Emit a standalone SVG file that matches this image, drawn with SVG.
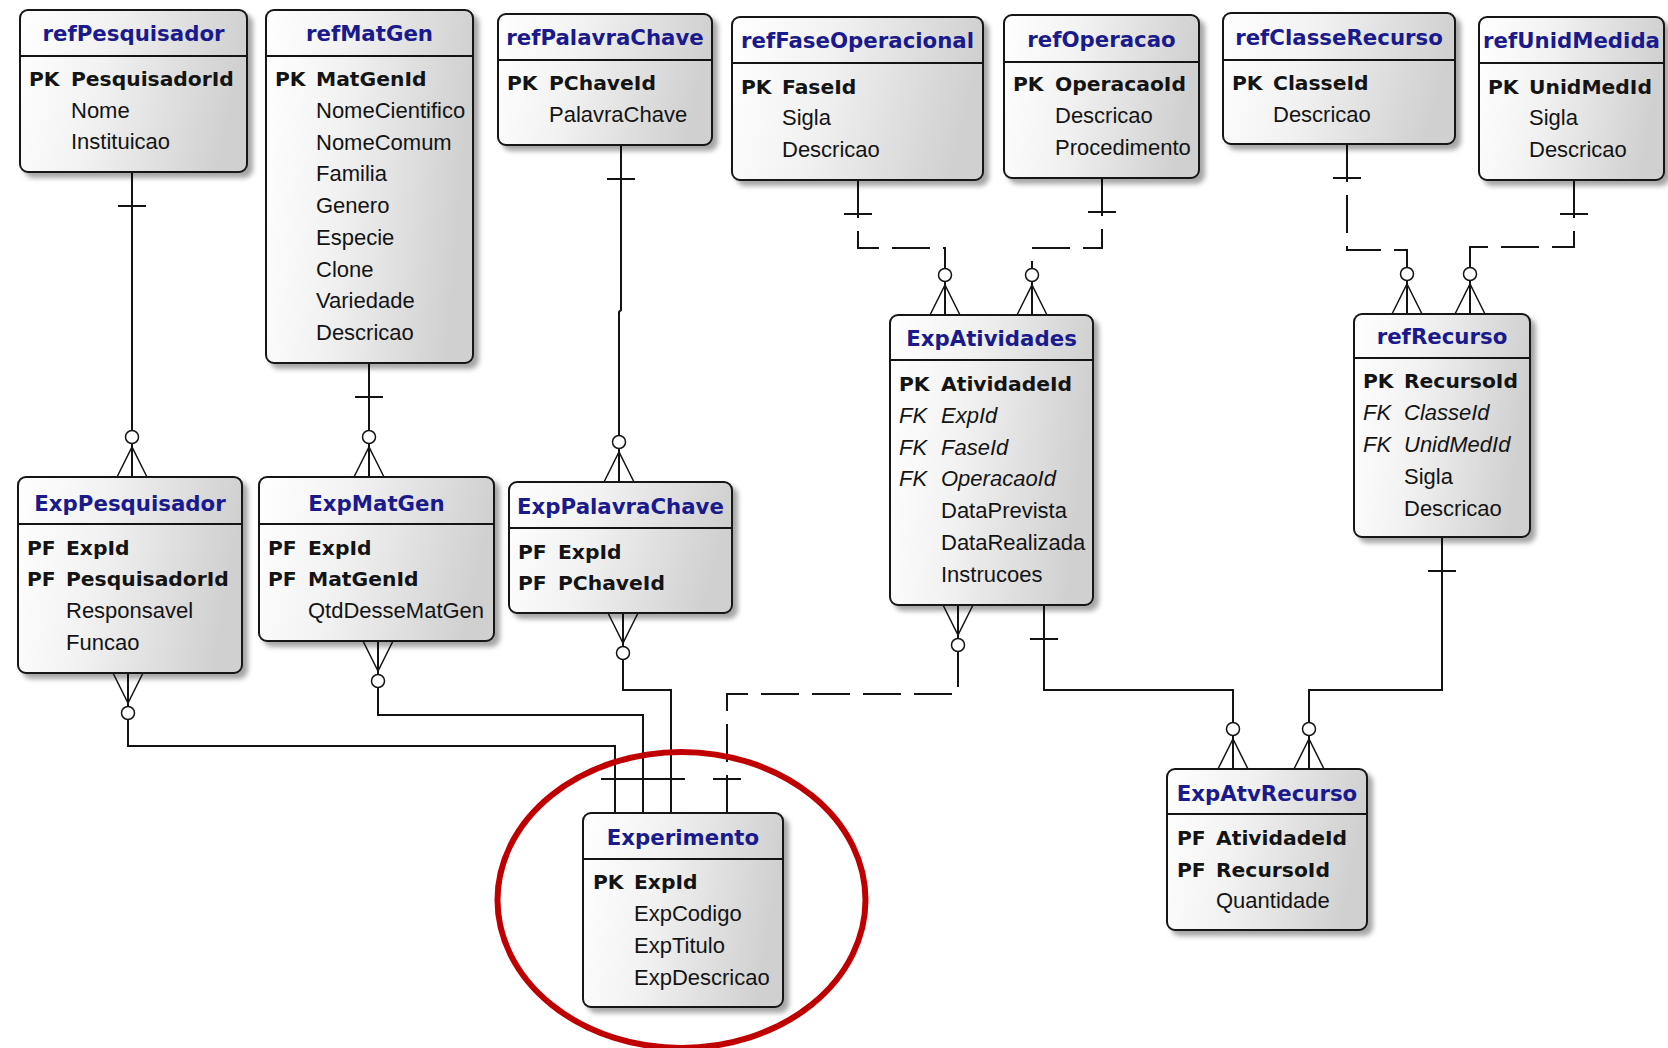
<svg xmlns="http://www.w3.org/2000/svg" width="1668" height="1048" viewBox="0 0 1668 1048">
<defs>
<linearGradient id="g" x1="0" y1="0" x2="1" y2="0.15">
<stop offset="0" stop-color="#ffffff"/>
<stop offset="0.4" stop-color="#f2f2f2"/>
<stop offset="1" stop-color="#d0d0d0"/>
</linearGradient>
<filter id="sh" x="-10%" y="-10%" width="125%" height="125%">
<feDropShadow dx="5" dy="5" stdDeviation="2.5" flood-color="#000" flood-opacity="0.35"/>
</filter>
<style>
.box{fill:url(#g);stroke:#141414;stroke-width:2;filter:url(#sh)}
.dv{stroke:#141414;stroke-width:2}
.t{font-family:"DejaVu Sans",sans-serif;font-weight:bold;font-size:21.3px;fill:#1a1a8c;text-anchor:middle}
.k{font-family:"DejaVu Sans",sans-serif;font-weight:bold;font-size:20.3px;fill:#141414}
.f{font-family:"Liberation Sans",Arial,sans-serif;font-size:22px;fill:#141414}
.i{font-family:"Liberation Sans",Arial,sans-serif;font-style:italic;font-size:22px;fill:#141414}
.ln{fill:none;stroke:#141414;stroke-width:2}
.ds{fill:none;stroke:#141414;stroke-width:2;stroke-dasharray:38 13}
.cf{fill:none;stroke:#141414;stroke-width:1.5}
.ci{fill:#fff;stroke:#141414;stroke-width:1.5}
</style>
</defs>
<rect width="1668" height="1048" fill="#fff"/>

<g id="connectors">
<!-- refPesquisador -> ExpPesquisador -->
<path class="ln" d="M132,172V477M118,206H146"/>
<path class="cf" d="M117,477L132,447L147,477"/>
<circle class="ci" cx="132" cy="437" r="6.5"/>
<!-- refMatGen -> ExpMatGen -->
<path class="ln" d="M369,363V477M355,397H383"/>
<path class="cf" d="M354,477L369,447L384,477"/>
<circle class="ci" cx="369" cy="437" r="6.5"/>
<!-- refPalavraChave -> ExpPalavraChave -->
<path class="ln" d="M621,145V310L619,312V482M607,179H635"/>
<path class="cf" d="M604,482L619,452L634,482"/>
<circle class="ci" cx="619" cy="442" r="6.5"/>
<!-- ExpPesquisador -> Experimento -->
<path class="ln" d="M128,673V746H615V813M601,779H629"/>
<path class="cf" d="M113,673L128,703L143,673"/>
<circle class="ci" cx="128" cy="713" r="6.5"/>
<!-- ExpMatGen -> Experimento -->
<path class="ln" d="M378,641V715H643V813M629,779H657"/>
<path class="cf" d="M363,641L378,671L393,641"/>
<circle class="ci" cx="378" cy="681" r="6.5"/>
<!-- ExpPalavraChave -> Experimento -->
<path class="ln" d="M623,613V690H671V813M657,779H685"/>
<path class="cf" d="M608,613L623,643L638,613"/>
<circle class="ci" cx="623" cy="653" r="6.5"/>
<!-- ExpAtividades -> Experimento (dashed) -->
<path class="ds" d="M727,813V694H958V652"/>
<path class="ln" d="M713,779H741M958,605V639"/>
<path class="cf" d="M943,605L958,635L973,605"/>
<circle class="ci" cx="958" cy="645" r="6.5"/>
<!-- refFaseOperacional -> ExpAtividades (dashed) -->
<path class="ds" d="M858,180V248H945V268"/>
<path class="ln" d="M844,214H872M945,281V315"/>
<path class="cf" d="M930,315L945,285L960,315"/>
<circle class="ci" cx="945" cy="275" r="6.5"/>
<!-- refOperacao -> ExpAtividades (dashed) -->
<path class="ds" d="M1102,178V248H1032V268"/>
<path class="ln" d="M1088,212H1116M1032,281V315"/>
<path class="cf" d="M1017,315L1032,285L1047,315"/>
<circle class="ci" cx="1032" cy="275" r="6.5"/>
<!-- refClasseRecurso -> refRecurso (dashed) -->
<path class="ds" d="M1347,144V250H1407V267"/>
<path class="ln" d="M1333,178H1361M1407,280V314"/>
<path class="cf" d="M1392,314L1407,284L1422,314"/>
<circle class="ci" cx="1407" cy="274" r="6.5"/>
<!-- refUnidMedida -> refRecurso (dashed) -->
<path class="ds" d="M1574,180V247H1470V267"/>
<path class="ln" d="M1560,214H1588M1470,280V314"/>
<path class="cf" d="M1455,314L1470,284L1485,314"/>
<circle class="ci" cx="1470" cy="274" r="6.5"/>
<!-- ExpAtividades -> ExpAtvRecurso -->
<path class="ln" d="M1044,605V690H1233V722M1030,639H1058M1233,735V769"/>
<path class="cf" d="M1218,769L1233,739L1248,769"/>
<circle class="ci" cx="1233" cy="729" r="6.5"/>
<!-- refRecurso -> ExpAtvRecurso -->
<path class="ln" d="M1442,537V690H1309V722M1428,571H1456M1309,735V769"/>
<path class="cf" d="M1294,769L1309,739L1324,769"/>
<circle class="ci" cx="1309" cy="729" r="6.5"/>
</g>

<g id="refPesquisador">
<rect class="box" x="20" y="10" width="227" height="162" rx="8"/>
<line class="dv" x1="20" y1="56" x2="247" y2="56"/>
<text class="t" x="133.5" y="41">refPesquisador</text>
<text class="k" x="29" y="86">PK</text><text class="k" x="71" y="86">PesquisadorId</text>
<text class="f" x="71" y="118">Nome</text>
<text class="f" x="71" y="149">Instituicao</text>
</g>

<g id="refMatGen">
<rect class="box" x="266" y="10" width="207" height="353" rx="8"/>
<line class="dv" x1="266" y1="56" x2="473" y2="56"/>
<text class="t" x="369.5" y="41">refMatGen</text>
<text class="k" x="275" y="86">PK</text><text class="k" x="316" y="86">MatGenId</text>
<text class="f" x="316" y="118">NomeCientifico</text>
<text class="f" x="316" y="150">NomeComum</text>
<text class="f" x="316" y="181">Familia</text>
<text class="f" x="316" y="213">Genero</text>
<text class="f" x="316" y="245">Especie</text>
<text class="f" x="316" y="277">Clone</text>
<text class="f" x="316" y="308">Variedade</text>
<text class="f" x="316" y="340">Descricao</text>
</g>

<g id="refPalavraChave">
<rect class="box" x="498" y="14" width="214" height="131" rx="8"/>
<line class="dv" x1="498" y1="60" x2="712" y2="60"/>
<text class="t" x="605" y="45">refPalavraChave</text>
<text class="k" x="507" y="90">PK</text><text class="k" x="549" y="90">PChaveId</text>
<text class="f" x="549" y="122">PalavraChave</text>
</g>

<g id="refFaseOperacional">
<rect class="box" x="732" y="17" width="251" height="163" rx="8"/>
<line class="dv" x1="732" y1="63" x2="983" y2="63"/>
<text class="t" x="857.5" y="48">refFaseOperacional</text>
<text class="k" x="741" y="94">PK</text><text class="k" x="782" y="94">FaseId</text>
<text class="f" x="782" y="125">Sigla</text>
<text class="f" x="782" y="157">Descricao</text>
</g>

<g id="refOperacao">
<rect class="box" x="1004" y="15" width="195" height="163" rx="8"/>
<line class="dv" x1="1004" y1="62" x2="1199" y2="62"/>
<text class="t" x="1101.5" y="47">refOperacao</text>
<text class="k" x="1013" y="91">PK</text><text class="k" x="1055" y="91">OperacaoId</text>
<text class="f" x="1055" y="123">Descricao</text>
<text class="f" x="1055" y="155">Procedimento</text>
</g>

<g id="refClasseRecurso">
<rect class="box" x="1223" y="13" width="232" height="131" rx="8"/>
<line class="dv" x1="1223" y1="60" x2="1455" y2="60"/>
<text class="t" x="1339" y="45">refClasseRecurso</text>
<text class="k" x="1232" y="90">PK</text><text class="k" x="1273" y="90">ClasseId</text>
<text class="f" x="1273" y="122">Descricao</text>
</g>

<g id="refUnidMedida">
<rect class="box" x="1479" y="17" width="185" height="163" rx="8"/>
<line class="dv" x1="1479" y1="63" x2="1664" y2="63"/>
<text class="t" x="1571.5" y="48">refUnidMedida</text>
<text class="k" x="1488" y="94">PK</text><text class="k" x="1529" y="94">UnidMedId</text>
<text class="f" x="1529" y="125">Sigla</text>
<text class="f" x="1529" y="157">Descricao</text>
</g>

<g id="ExpAtividades">
<rect class="box" x="890" y="315" width="203" height="290" rx="8"/>
<line class="dv" x1="890" y1="360" x2="1093" y2="360"/>
<text class="t" x="991.5" y="346">ExpAtividades</text>
<text class="k" x="899" y="391">PK</text><text class="k" x="941" y="391">AtividadeId</text>
<text class="i" x="899" y="423">FK</text><text class="i" x="941" y="423">ExpId</text>
<text class="i" x="899" y="455">FK</text><text class="i" x="941" y="455">FaseId</text>
<text class="i" x="899" y="486">FK</text><text class="i" x="941" y="486">OperacaoId</text>
<text class="f" x="941" y="518">DataPrevista</text>
<text class="f" x="941" y="550">DataRealizada</text>
<text class="f" x="941" y="582">Instrucoes</text>
</g>

<g id="refRecurso">
<rect class="box" x="1354" y="314" width="176" height="223" rx="8"/>
<line class="dv" x1="1354" y1="358" x2="1530" y2="358"/>
<text class="t" x="1442" y="344">refRecurso</text>
<text class="k" x="1363" y="388">PK</text><text class="k" x="1404" y="388">RecursoId</text>
<text class="i" x="1363" y="420">FK</text><text class="i" x="1404" y="420">ClasseId</text>
<text class="i" x="1363" y="452">FK</text><text class="i" x="1404" y="452">UnidMedId</text>
<text class="f" x="1404" y="484">Sigla</text>
<text class="f" x="1404" y="516">Descricao</text>
</g>

<g id="ExpPesquisador">
<rect class="box" x="18" y="477" width="224" height="196" rx="8"/>
<line class="dv" x1="18" y1="524" x2="242" y2="524"/>
<text class="t" x="130" y="511">ExpPesquisador</text>
<text class="k" x="27" y="555">PF</text><text class="k" x="66" y="555">ExpId</text>
<text class="k" x="27" y="586">PF</text><text class="k" x="66" y="586">PesquisadorId</text>
<text class="f" x="66" y="618">Responsavel</text>
<text class="f" x="66" y="650">Funcao</text>
</g>

<g id="ExpMatGen">
<rect class="box" x="259" y="477" width="235" height="164" rx="8"/>
<line class="dv" x1="259" y1="524" x2="494" y2="524"/>
<text class="t" x="376.5" y="511">ExpMatGen</text>
<text class="k" x="268" y="555">PF</text><text class="k" x="308" y="555">ExpId</text>
<text class="k" x="268" y="586">PF</text><text class="k" x="308" y="586">MatGenId</text>
<text class="f" x="308" y="618">QtdDesseMatGen</text>
</g>

<g id="ExpPalavraChave">
<rect class="box" x="509" y="482" width="223" height="131" rx="8"/>
<line class="dv" x1="509" y1="528" x2="732" y2="528"/>
<text class="t" x="620.5" y="514">ExpPalavraChave</text>
<text class="k" x="518" y="559">PF</text><text class="k" x="558" y="559">ExpId</text>
<text class="k" x="518" y="590">PF</text><text class="k" x="558" y="590">PChaveId</text>
</g>

<g id="Experimento">
<rect class="box" x="583" y="813" width="200" height="194" rx="8"/>
<line class="dv" x1="583" y1="859" x2="783" y2="859"/>
<text class="t" x="683" y="845">Experimento</text>
<text class="k" x="593" y="889">PK</text><text class="k" x="634" y="889">ExpId</text>
<text class="f" x="634" y="921">ExpCodigo</text>
<text class="f" x="634" y="953">ExpTitulo</text>
<text class="f" x="634" y="985">ExpDescricao</text>
</g>

<g id="ExpAtvRecurso">
<rect class="box" x="1167" y="769" width="200" height="161" rx="8"/>
<line class="dv" x1="1167" y1="814" x2="1367" y2="814"/>
<text class="t" x="1267" y="801">ExpAtvRecurso</text>
<text class="k" x="1177" y="845">PF</text><text class="k" x="1216" y="845">AtividadeId</text>
<text class="k" x="1177" y="877">PF</text><text class="k" x="1216" y="877">RecursoId</text>
<text class="f" x="1216" y="908">Quantidade</text>
</g>

<g id="highlight">
<ellipse cx="681.5" cy="900" rx="184" ry="148" fill="none" stroke="#c00000" stroke-width="6"/>
</g>
</svg>
